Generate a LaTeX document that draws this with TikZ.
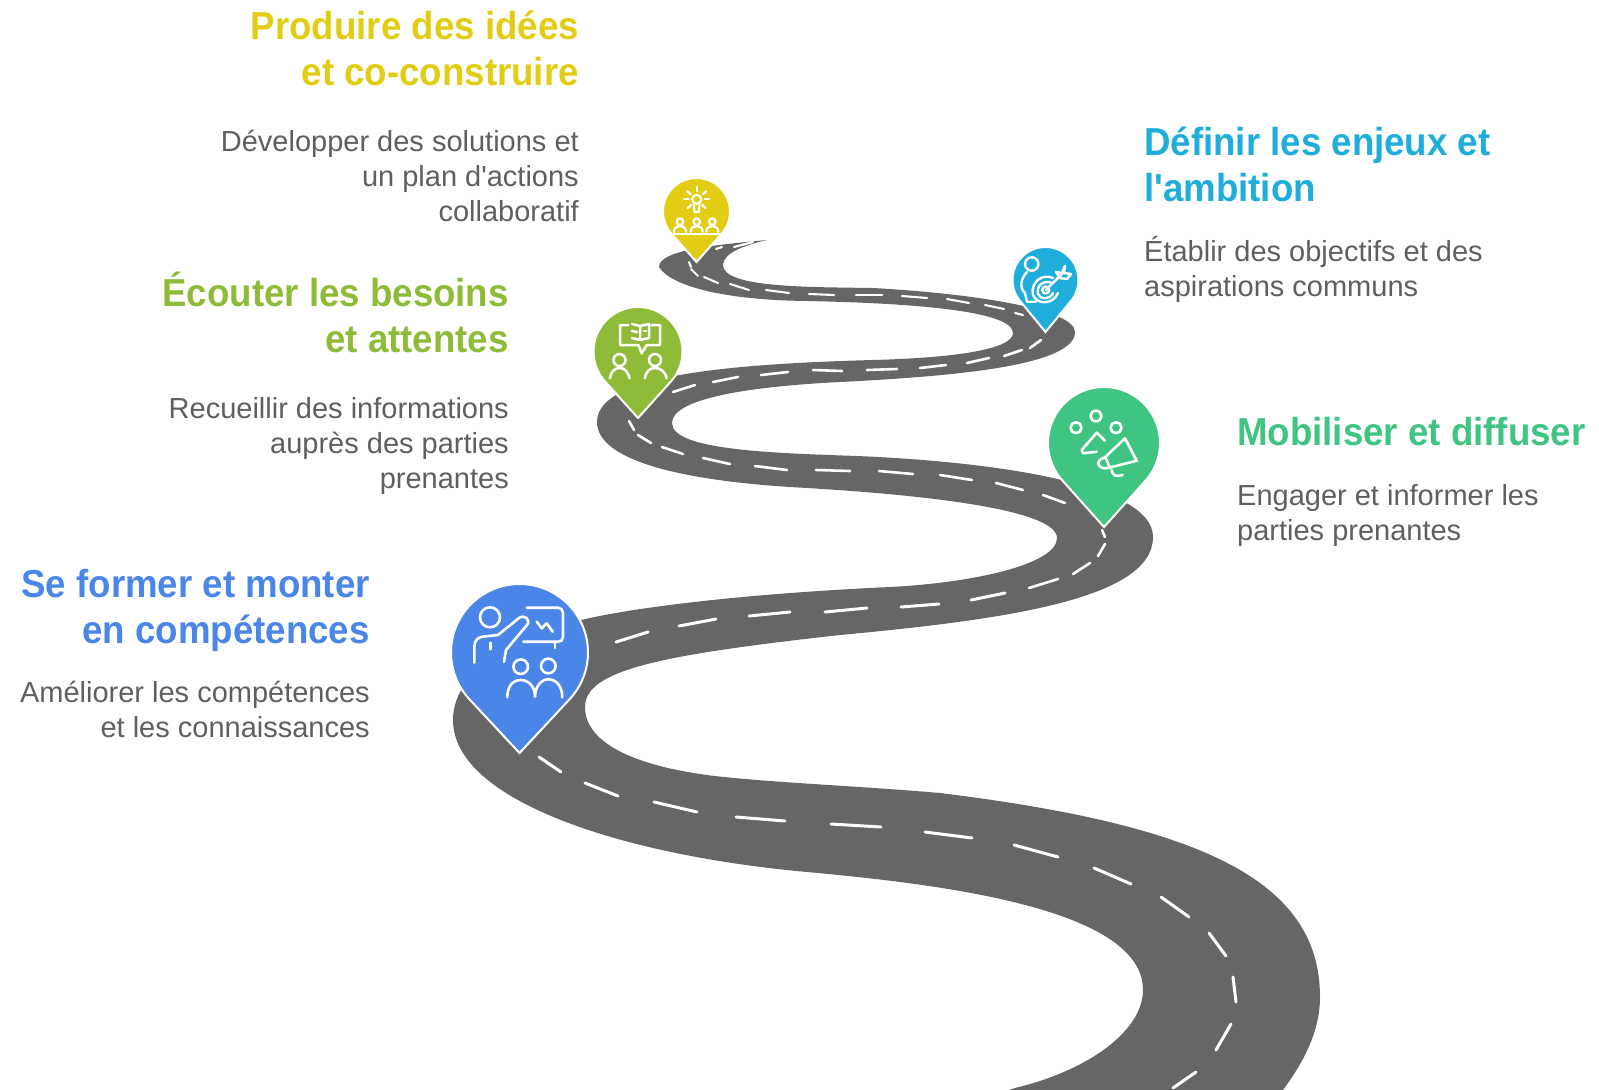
\documentclass[tikz,border=0pt]{standalone}
\usepackage{fontspec}
\setmainfont{Liberation Sans}[Ligatures=TeXOff]
\newfontfamily\ttlfont{Liberation Sans}[Ligatures=TeXOff,FakeStretch=0.94]
\definecolor{roadgray}{HTML}{666666}
\definecolor{bodygray}{HTML}{5F5F5F}
\definecolor{cblue}{HTML}{4A86E8}
\definecolor{cgreen}{HTML}{3FC482}
\definecolor{clime}{HTML}{8FBC38}
\definecolor{cyellow}{HTML}{E2CD14}
\definecolor{cteal}{HTML}{1FAEDC}
\newcommand\droppin[5]{%
  \pgfmathsetmacro\pinang{acos(#3/#4)}%
  \pgfmathsetmacro\pinst{90+\pinang}%
  \pgfmathsetmacro\pinen{450-\pinang}%
  \filldraw[pinedge,fill=#5] plot[domain=\pinst:\pinen,samples=80] ({#1+#3*cos(\x)},{#2+#3*sin(\x)}) -- (#1,#2+#4) -- cycle;
}
\tikzset{
  pinedge/.style={draw=white,line width=2pt,line join=miter},
  dashw/.style={draw=white,line width=#1,line cap=round},
  ico/.style={draw=white,line width=#1,line cap=round,line join=round,fill=none},
  ttl/.style={font=\ttlfont\fontsize{39}{46.5}\selectfont\bfseries,text=#1,inner sep=0pt},
  bdy/.style={font=\fontsize{29}{35}\selectfont,text=bodygray,inner sep=0pt},
}
\begin{document}
\begin{tikzpicture}[x=1pt,y=-1pt]
\useasboundingbox (0,0) rectangle (1599,1090);
\fill[white] (0,0) rectangle (1599,1090);
\begin{scope}
\clip (0,0) rectangle (1599,1090);
\fill[roadgray] (767,240)
 .. controls (715,245) and (659,250) .. (659,267)
 .. controls (670,285) and (720,300) .. (807,301)
 .. controls (905,303) and (1013,310) .. (1013,333)
 .. controls (1013,350) and (950,358) .. (873,360)
 .. controls (800,362) and (730,366) .. (680,375)
 .. controls (640,382) and (597,395) .. (597,422)
 .. controls (597,460) and (680,480) .. (790,487)
 .. controls (880,492) and (1057,505) .. (1057,538)
 .. controls (1057,565) and (970,583) .. (890,587)
 .. controls (760,593) and (650,605) .. (590,618)
 .. controls (530,631) and (453,665) .. (453,720)
 .. controls (453,800) and (620,855) .. (807,872)
 .. controls (950,885) and (1143,910) .. (1143,990)
 .. controls (1143,1030) and (1090,1070) .. (1015,1088)
 -- (985,1098) -- (1270,1110) -- (1283,1090)
 .. controls (1305,1060) and (1320,1030) .. (1320,997)
 .. controls (1320,880) and (1200,825) .. (940,793)
 .. controls (860,786) and (760,782) .. (707,775)
 .. controls (640,766) and (585,745) .. (585,707)
 .. controls (585,670) and (660,655) .. (840,635)
 .. controls (1000,620) and (1153,600) .. (1153,537)
 .. controls (1153,485) and (1000,462) .. (857,456)
 .. controls (770,453) and (672,450) .. (672,423)
 .. controls (672,400) and (740,387) .. (840,382)
 .. controls (960,376) and (1075,365) .. (1075,332)
 .. controls (1075,310) and (980,294) .. (873,288)
 .. controls (810,287) and (723,288) .. (723,265)
 .. controls (723,253) and (745,245) .. (767,240)
 -- cycle;
% centre line dashes
\foreach \a/\b/\c/\d in {1173/1088/1196/1072,1216/1050/1231/1024,1236/1002/1233/977,1226/956/1209/933,1189/917/1161/897,1131/884/1094/868,1058/857/1014/845,972/838/925/832,881/827/831/824,785/821/736/817,697/812/654/802,618/796/585/783,561/772/539/757,616/642/648/632,679/626/716/619,749/616/790/612,825/612/867/608,901/607/939/604,971/600/1005/593}
  \draw[dashw=3pt] (\a,\b) -- (\c,\d);
\foreach \a/\b/\c/\d in {1029/588/1058/579,1073/574/1090/563,1098/556/1105/544,1102/530/1105/537,1043/495/1065/503,996/483/1023/490,940/475/972/480,879/471/913/474,816/470/850/471,755/466/787/470,703/458/730/464,662/447/683/454,638/435/651/443,629/421/634/430,673/392/695/385,713/382/738/377,761/375/788/372,813/370/842/371,867/370/897/369,920/368/946/365,967/363/989/358,1004/356/1022/350,1030/348/1041/340}
  \draw[dashw=2.6pt] (\a,\b) -- (\c,\d);
\foreach \a/\b/\c/\d in {1015/313/1023/315,985/305/1004/309,947/299/969/303,902/296/927/298,856/295/882/295,809/294/834/295,766/290/789/293,730/284/749/290,704/277/718/283,691/269/698/276,689/262/691/267,716/249/722/247,734/247/753/242}
  \draw[dashw=2.1pt] (\a,\b) -- (\c,\d);
\end{scope}
% pins
\droppin{519.5}{652.5}{68.5}{100.5}{cblue}
\droppin{1104}{443}{56}{84}{cgreen}
\droppin{638}{351.5}{44.5}{66.5}{clime}
\droppin{696.5}{211.5}{33.5}{50.5}{cyellow}
\droppin{1045.5}{280}{33}{52}{cteal}
% blue icon
\begin{scope}[ico=2.6pt]
\draw (490,617.3) circle[radius=10];
\draw (474.3,662.7) -- (474.3,647) .. controls (474.3,640) and (478,637) .. (484,636.5) -- (498,635) -- (519,618) .. controls (525,614) and (531,620) .. (527,625) -- (506,650) -- (504,662);
\draw (490.7,642.7) -- (490.7,649.3);
\draw (526.7,607.7) -- (558,607.7) .. controls (561,607.7) and (563,610) .. (563,613) -- (563,637) .. controls (563,640) and (561,641.7) .. (558,641.7) -- (523.3,641.7);
\draw (555,641.7) -- (555,648);
\draw (536.7,621.7) -- (541.7,628.3) -- (546.7,623.3) -- (552.7,631.7);
\draw (520.7,666.7) circle[radius=7.3];
\draw (548.3,666) circle[radius=7.3];
\draw (507.3,697.3) .. controls (507.3,686) and (513,680) .. (520.7,680) .. controls (529,680) and (535,687) .. (535,696.7);
\draw (535,696.7) .. controls (535,687) and (541,679.3) .. (548.3,679.3) .. controls (556,679.3) and (562.3,686) .. (562.3,697.3);
\end{scope}
% green icon
\begin{scope}[ico=2.6pt]
\draw (1076,427.7) circle[radius=5.5];
\draw (1096,416) circle[radius=5.5];
\draw (1116,427.7) circle[radius=5.5];
\draw (1105,440.7) -- (1096.7,432.7) -- (1081.7,450) -- (1083.3,453.3) -- (1096.7,451.7);
\draw (1105,457.3) -- (1125,438.3) -- (1136.7,460.7) -- (1108,468) .. controls (1099,470) and (1093,461) .. (1105,457.3);
\draw (1106,458.3) -- (1110,468.3);
\draw (1111.7,470) .. controls (1112,476) and (1117,477) .. (1122.7,475);
\end{scope}
% lime icon
\begin{scope}[ico=2.5pt]
\draw (628.3,325) -- (620,325) -- (620,345) -- (638.3,345) -- (641.7,353.3) -- (646.7,345) -- (660,345) -- (660,325) -- (651.7,325);
\draw (632,324) -- (640,326) -- (640,340) -- (632,338);
\draw (632,331) -- (637,332);
\draw (640,326) -- (649,324) -- (649,338) -- (640,340);
\draw (644,331) -- (646,331);
\draw (619.5,360) circle[radius=6];
\draw (655,360) circle[radius=6];
\draw (610,378.3) .. controls (611,371) and (615,368) .. (619.5,368) .. controls (624,368) and (628,371) .. (629.5,378.3);
\draw (645,378.3) .. controls (646,371) and (650,368) .. (655,368) .. controls (660,368) and (665,371) .. (666.7,378.3);
\end{scope}
% yellow icon
\begin{scope}[ico=2.2pt]
\draw (696.7,199.3) circle[radius=4.5];
\draw (694,205) -- (694.5,212) -- (699,212) -- (699.5,205);
\foreach \t in {0,40,90,140,180,225,315}
  \draw ({696.7+8*cos(\t)},{199.3+8*sin(\t+180)}) -- ({696.7+12.5*cos(\t)},{199.3+12.5*sin(\t+180)});
\foreach \p in {680,696.7,712.3}{
  \draw (\p,221.7) circle[radius=3.3];
  \draw (\p-6,232) .. controls (\p-6,227.5) and (\p-3,226) .. (\p,226) .. controls (\p+3,226) and (\p+6,227.5) .. (\p+6,232);
}
\draw[line width=2.6pt] (673.3,234) -- (720,234);
\end{scope}
% teal icon
\begin{scope}[ico=2.4pt]
\draw (1031.7,264) circle[radius=6.7];
\draw (1027,272) .. controls (1021,278) and (1019,288) .. (1025,293) -- (1027,301.7) -- (1036,301.7);
\draw (1045.7,290) circle[radius=3.5];
\draw (1052,283) .. controls (1045,280) and (1036,284) .. (1038,294) .. controls (1040,300) and (1050,300) .. (1053,293);
\draw (1053,278) .. controls (1043,273) and (1030,282) .. (1033,295) .. controls (1037,305) and (1053,305) .. (1058,293);
\draw (1045.7,290) -- (1063,273);
\draw (1056,272) -- (1060,278) -- (1067,279);
\draw (1056,272) -- (1062,273) -- (1065,266);
\draw (1065,266) -- (1064,273) -- (1071,274) -- (1067,279);
\end{scope}
% texts
\node[ttl=cyellow,anchor=base east,align=right] (t1) at (579,85.5) {Produire des idées\\et co-construire};
\node[bdy,anchor=base east,align=right] (b1) at (579,221) {Développer des solutions et\\un plan d'actions\\collaboratif};
\node[ttl=clime,anchor=base east,align=right] (t2) at (509,352.5) {Écouter les besoins\\et attentes};
\node[bdy,anchor=base east,align=right] (b2) at (509,488.5) {Recueillir des informations\\auprès des parties\\prenantes};
\node[ttl=cblue,anchor=base east,align=right] (t3) at (370,643.5) {Se former et monter\\en compétences};
\node[bdy,anchor=base east,align=right] (b3) at (370,737.5) {Améliorer les compétences\\et les connaissances};
\node[ttl=cteal,anchor=base west,align=left] (t4) at (1144,201.5) {Définir les enjeux et\\l'ambition};
\node[bdy,anchor=base west,align=left] (b4) at (1144,296.5) {Établir des objectifs et des\\aspirations communs};
\node[ttl=cgreen,anchor=base west,align=left] (t5) at (1237,445.5) {Mobiliser et diffuser};
\node[bdy,anchor=base west,align=left] (b5) at (1237,540.5) {Engager et informer les\\parties prenantes};
\end{tikzpicture}
\end{document}
